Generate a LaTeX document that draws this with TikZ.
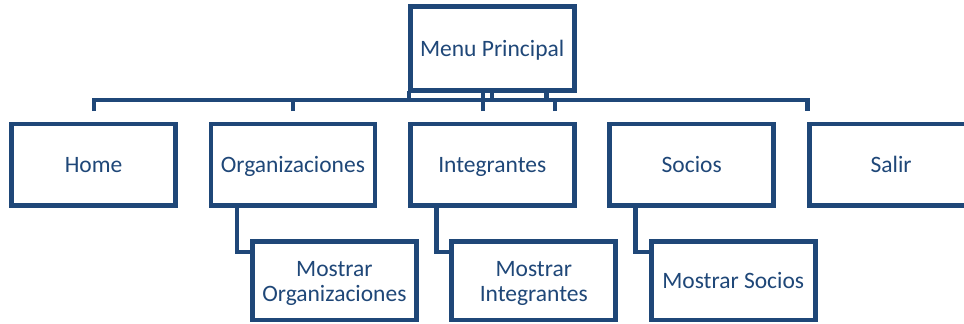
\documentclass[tikz,border=0pt]{standalone}
\usepackage{fontspec}
\setmainfont{Carlito}
\definecolor{navy}{RGB}{31,71,120}
\begin{document}
\begin{tikzpicture}[x=1pt,y=-1pt,
  box/.style={draw=navy, line width=4.8pt, fill=white, minimum width=164pt,
    inner sep=0pt, outer sep=0pt, text=navy,
    font=\fontsize{23.5}{25}\selectfont, text height=15pt, text depth=0pt},
  topbox/.style={box, minimum height=83.7pt},
  kid/.style={box, minimum height=81.5pt},
  subbox/.style={box, minimum height=78.5pt},
  twolines/.style={text width=164pt, align=center, text height=15pt, text depth=23pt},
  wire/.style={draw=navy, line width=4.8pt, line join=miter}]
\useasboundingbox (0,0) rectangle (964,324);
\clip (0,0) rectangle (964,324);

% named points of the connector bus
\coordinate (busL) at (94,100);
\coordinate (busR) at (807.5,100);
\coordinate (dropL) at (94,111);
\coordinate (dropR) at (807.5,111);
\coordinate (dropA) at (483,111);
\coordinate (dropB) at (555,111);
\coordinate (stubA) at (409,90.5);
\coordinate (stubB) at (483,90.5);
\coordinate (stubC) at (492,90.5);
\coordinate (stubD) at (546.5,90.5);
\coordinate (dropO) at (293,111);

% bus and stubs
\draw[wire] (dropL) -- (busL) -- (busR) -- (dropR);
\draw[wire] (dropO) -- (dropO |- busL);
\draw[wire] (dropA) -- (dropA |- busL);
\draw[wire] (dropB) -- (dropB |- busL);
\draw[wire] (stubA) -- (stubA |- busL);
\draw[wire] (stubB) -- (stubB |- busL);
\draw[wire] (stubC) -- (stubC |- busL);
\draw[wire] (stubD) -- (stubD |- busL);

% nodes
\node[topbox] (menu) at (492.2,48.65) {Menu Principal};
\node[kid] (home) at (93.5,164.75) {Home};
\node[kid] (org) at (292.9,164.75) {Organizaciones};
\node[kid] (int) at (492.3,164.75) {Integrantes};
\node[kid] (soc) at (691.7,164.75) {Socios};
\node[kid] (sal) at (891.1,164.75) {Salir};

% child connectors
\draw[wire] ([xshift=26pt]org.south west) |- (334.4,252);
\draw[wire] ([xshift=26pt]int.south west) |- (533.8,252);
\draw[wire] ([xshift=26pt]soc.south west) |- (733.2,252);

\node[subbox,twolines] (morg) at (334.4,280.75) {Mostrar\\Organizaciones};
\node[subbox,twolines] (mint) at (533.8,280.75) {Mostrar\\Integrantes};
\node[subbox] (msoc) at (733.2,280.75) {Mostrar Socios};
\end{tikzpicture}
\end{document}
